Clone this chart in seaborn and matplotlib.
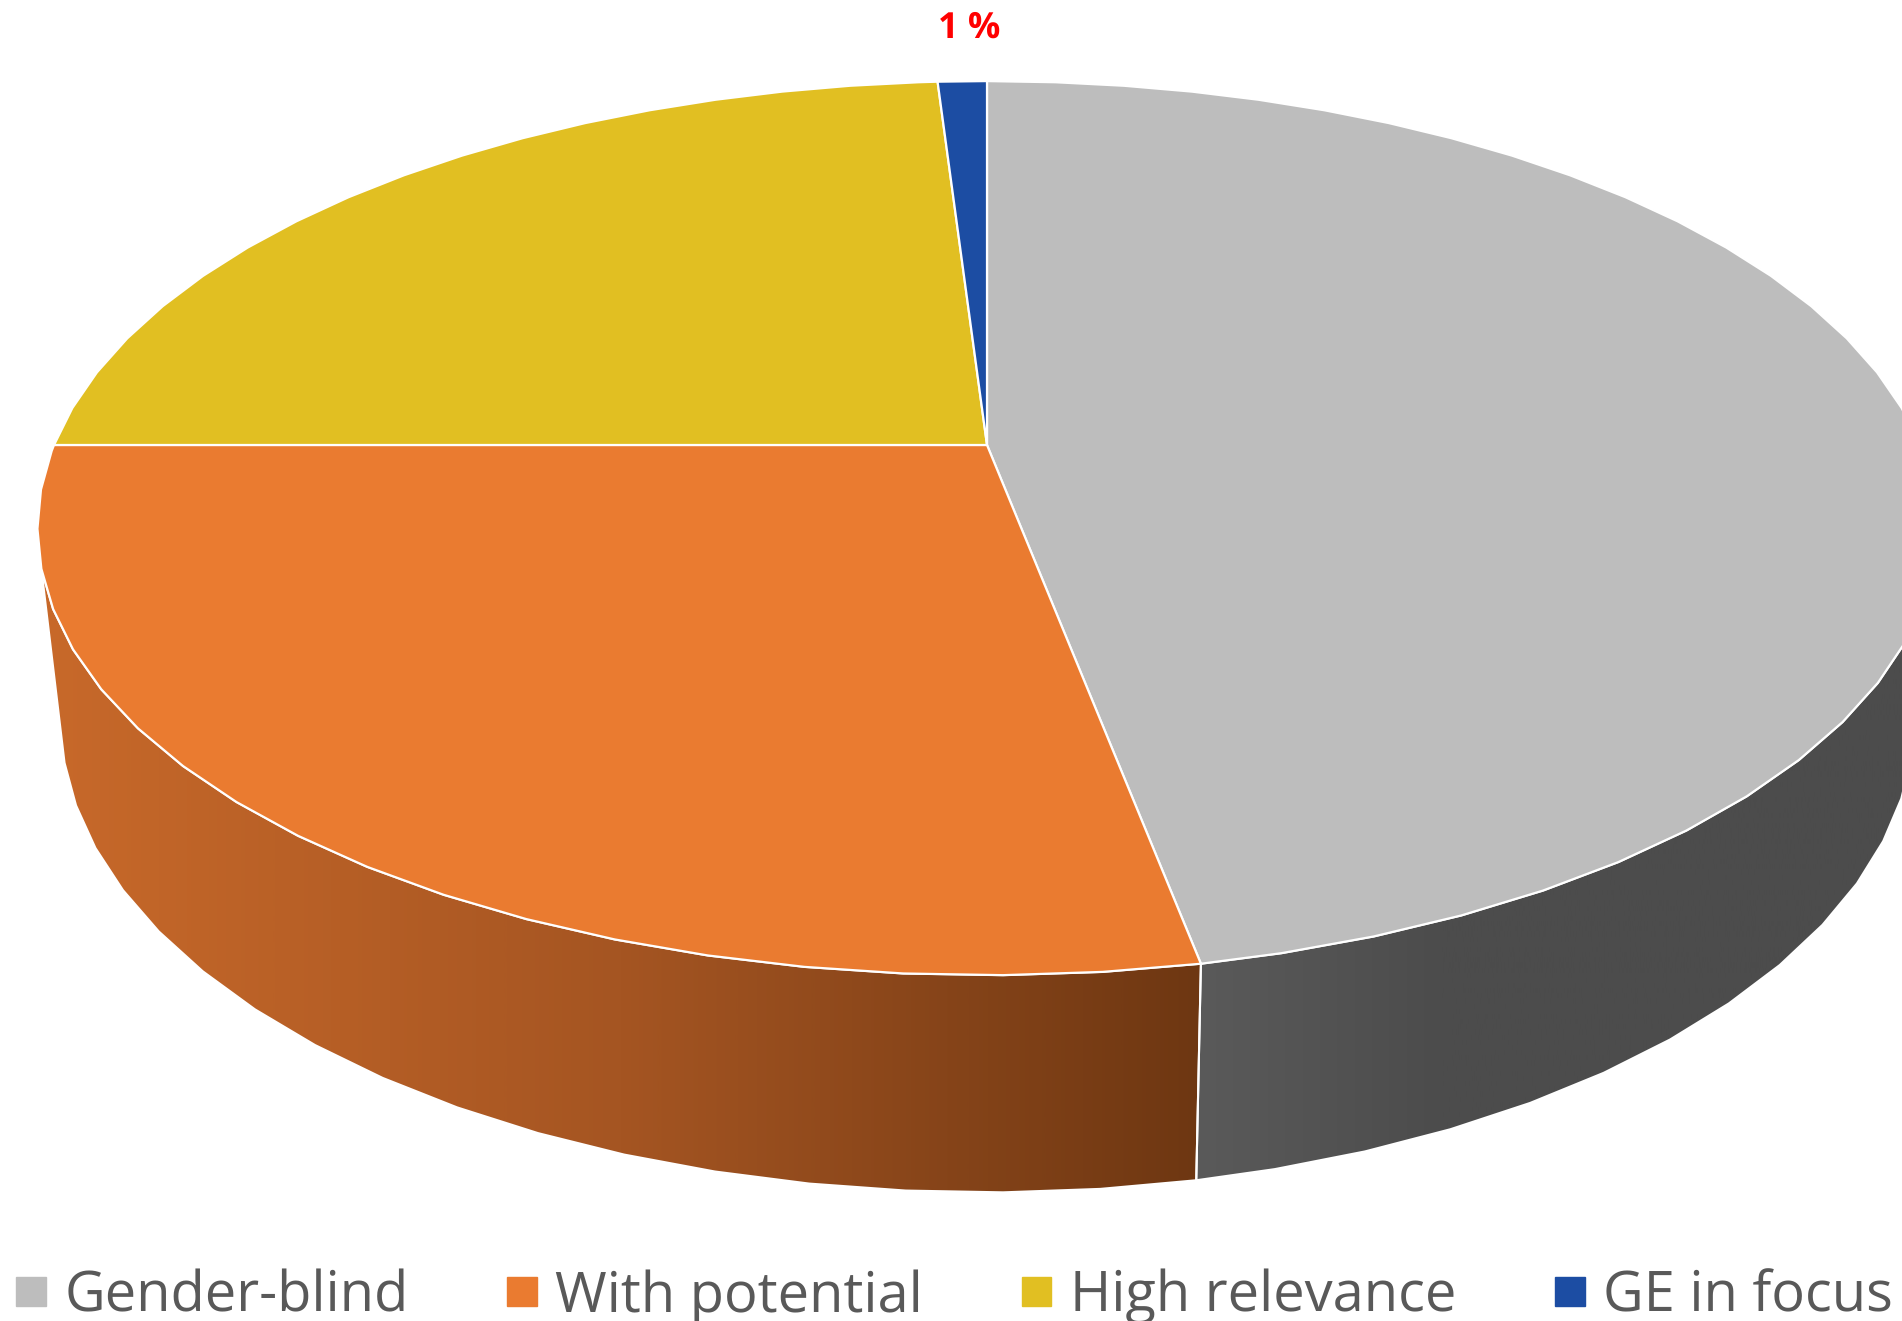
import numpy as np
import matplotlib
matplotlib.use('Agg')
import matplotlib.pyplot as plt
import seaborn as sns
from matplotlib.colors import LinearSegmentedColormap
from matplotlib.patches import Patch, Polygon

# Data
categories = ['Gender-blind', 'With potential', 'High relevance', 'GE in focus']
shares = [47, 28, 24, 1]
top_colors = ['#BDBDBD', '#EA7B30', '#E1BF22', '#1C4DA3']
side_stops = {
    'Gender-blind': ['#5A5A5A', '#4C4C4C', '#4C4C4C', '#4C4C4C'],
    'With potential': ['#C8692A', '#A55522', '#6E3712'],
}

sns.set_theme(style='white')
plt.rcParams['font.family'] = ['Open Sans', 'DejaVu Sans']
plt.rcParams['text.hinting'] = 'none'
plt.rcParams['text.hinting_factor'] = 1

fig = plt.figure(figsize=(19.02, 13.21), dpi=100)
ax = fig.add_axes([0, 0, 1, 1])

# the pie gives the slice angles, they get re-projected to the tilted view below
wedges, _ = ax.pie(shares, startangle=90, counterclock=False,
                   colors=sns.color_palette(top_colors))


def tilt(x, y):
    # perspective view of the unit disc, result in pixels
    w = 1 + 0.186 * y
    return 987 + 933 * x / w, 445 - 431.6 * y / w


def drop(px, py):
    # same point on the lower face of the disc
    return 1007 + 0.976 * (px - 1007), 1.057 * py + 161.6


def rim(theta1, theta2):
    # the rim is faceted, 5 degree steps from the start of each slice (clockwise)
    t = np.r_[np.arange(theta2, theta1, -5.0), theta1]
    t = np.radians(t)
    return tilt(np.cos(t), np.sin(t))


angles = [(w.theta1, w.theta2) for w in wedges]
for w in wedges:
    w.remove()

# side walls first
for name, (t1, t2) in zip(categories, angles):
    if name not in side_stops:
        continue
    px, py = rim(t1, t2)
    # cut the wall where it leaves the silhouette of the disc
    lean = (px - 1007) / (9207 - py)
    if name == 'Gender-blind':
        i = np.argmax(lean)
        px, py = px[i:], py[i:]
    else:
        i = np.argmin(lean)
        px, py = px[:i + 1], py[:i + 1]
    qx, qy = drop(px, py)
    outline = np.column_stack([np.r_[px, qx[::-1]], np.r_[py, qy[::-1]]])
    x0, x1 = outline[:, 0].min(), outline[:, 0].max()
    cmap = LinearSegmentedColormap.from_list(name, side_stops[name])
    shade = ax.imshow(np.linspace(0, 1, 512)[None, :], cmap=cmap, aspect='auto',
                      extent=(x0, x1, 1321, 0), zorder=1)
    wall = Polygon(outline, closed=True, fill=False, edgecolor='white', lw=1.5, zorder=2)
    ax.add_patch(wall)
    shade.set_clip_path(wall)

# top faces
for color, (t1, t2) in zip(top_colors, angles):
    px, py = rim(t1, t2)
    cx, cy = tilt(0, 0)
    face = np.column_stack([np.r_[cx, px], np.r_[cy, py]])
    ax.add_patch(Polygon(face, closed=True, facecolor=color, edgecolor='white',
                         lw=1.6, zorder=3))

ax.text(969, 28, '1 %', color='red', fontsize=26, fontweight='bold',
        ha='center', va='center')

ax.set_xlim(0, 1902)
ax.set_ylim(1321, 0)
ax.set_aspect('auto')
ax.axis('off')

handles = [Patch(color=c, label=n) for c, n in zip(top_colors, categories)]
fig.legend(handles=handles, loc='lower left', bbox_to_anchor=(16 / 1902, -4 / 1321),
           ncol=4, frameon=False, fontsize=40.3, labelcolor='#595959',
           handlelength=0.532, handleheight=0.44, handletextpad=0.33,
           columnspacing=1.76, borderpad=0, borderaxespad=0)

fig.savefig('out.png', dpi=100)
